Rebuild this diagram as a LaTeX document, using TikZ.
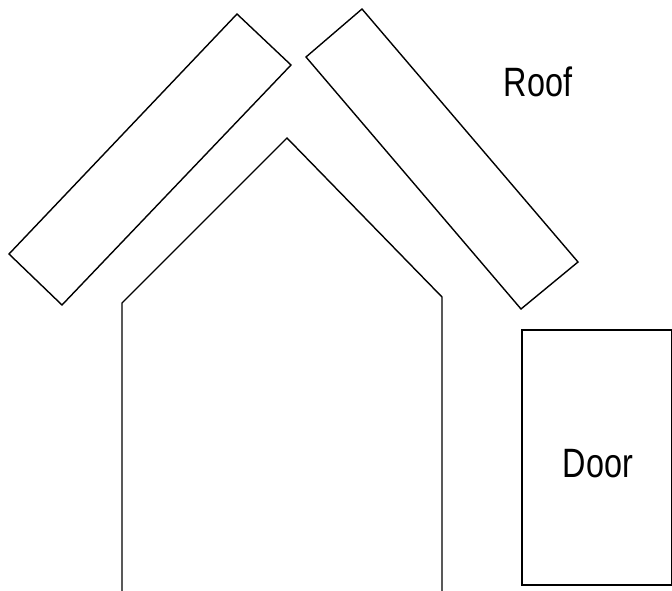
\documentclass[tikz,border=0pt]{standalone}
\usepackage{fontspec}
\setmainfont[FakeStretch=0.79]{Liberation Sans}

\begin{document}
\begin{tikzpicture}[x=1pt,y=-1pt,line width=1.4pt,
  part/.style={draw=black,line join=miter},
  partlabel/.style={anchor=base,inner sep=0pt,font=\fontsize{41}{41}\selectfont}]
\useasboundingbox (0,0) rectangle (672,591);
% roof pieces
\draw[part] (237,14) -- (291,65) -- (62,305) -- (9,254) -- cycle;
\draw[part] (362,9) -- (578,262) -- (521,309) -- (306,57) -- cycle;
% house body, open at the bottom
\draw[part] (122,591) -- (122,303) -- (287,138) -- (442,297) -- (442,591);
% door
\draw[part] (522,330) rectangle (672,585);
\node[partlabel] (roof) at (538,97) {Roof};
\node[partlabel] (door) at (598,477) {Door};
\end{tikzpicture}
\end{document}
